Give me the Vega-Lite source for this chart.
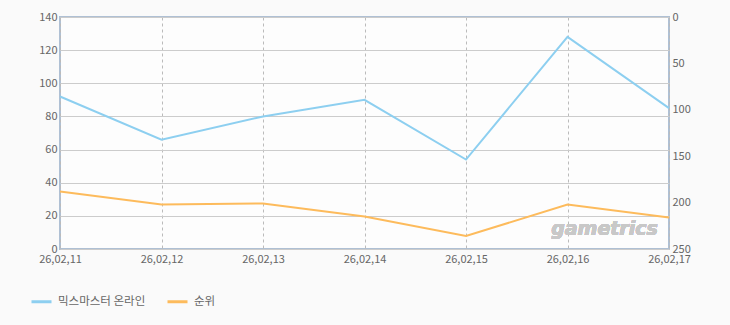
{
  "$schema": "https://vega.github.io/schema/vega-lite/v6.json",
  "autosize": {"type": "none"},
  "width": 609,
  "height": 232,
  "padding": {"left": 60, "top": 17, "right": 61, "bottom": 76},
  "background": "#fafafa",
  "config": {
    "font": "Noto Sans CJK KR",
    "view": {"stroke": "#afc0d4", "strokeWidth": 2, "fill": "#fdfdfd"},
    "axis": {"labelFont": "Noto Sans CJK KR", "labelFontSize": 11, "labelColor": "#666666", "ticks": false, "domain": false, "title": null, "labelOverlap": false, "labelBound": false, "labelFlush": false}
  },
  "data": {
    "values": [
      {"date": "26,02,11", "series": "믹스마스터 온라인", "value": 92},
      {"date": "26,02,12", "series": "믹스마스터 온라인", "value": 66},
      {"date": "26,02,13", "series": "믹스마스터 온라인", "value": 80},
      {"date": "26,02,14", "series": "믹스마스터 온라인", "value": 90},
      {"date": "26,02,15", "series": "믹스마스터 온라인", "value": 54},
      {"date": "26,02,16", "series": "믹스마스터 온라인", "value": 128},
      {"date": "26,02,17", "series": "믹스마스터 온라인", "value": 85},
      {"date": "26,02,11", "series": "순위", "value": 188},
      {"date": "26,02,12", "series": "순위", "value": 202},
      {"date": "26,02,13", "series": "순위", "value": 201},
      {"date": "26,02,14", "series": "순위", "value": 215},
      {"date": "26,02,15", "series": "순위", "value": 236},
      {"date": "26,02,16", "series": "순위", "value": 202},
      {"date": "26,02,17", "series": "순위", "value": 216}
    ]
  },
  "encoding": {
    "x": {
      "field": "date", "type": "ordinal",
      "scale": {"type": "point", "padding": 0},
      "axis": {"labelAngle": 0, "labelPadding": 4, "grid": true, "gridDash": [3, 3], "gridColor": "#bbbbbb"}
    }
  },
  "layer": [
    {
      "layer": [
        {
          "transform": [{"filter": "datum.series === '믹스마스터 온라인'"}],
          "mark": {"type": "line", "strokeWidth": 2},
          "encoding": {
            "y": {
              "field": "value", "type": "quantitative",
              "scale": {"domain": [0, 140], "nice": false},
              "axis": {"orient": "left", "values": [0, 20, 40, 60, 80, 100, 120, 140], "labelPadding": 3, "grid": true, "gridColor": "#cccccc"}
            },
            "color": {
              "field": "series", "type": "nominal",
              "scale": {"domain": ["믹스마스터 온라인", "순위"], "range": ["#8dcff0", "#fdbb5c"]},
              "legend": {
                "title": null, "orient": "none", "direction": "horizontal",
                "legendX": -30, "legendY": 273,
                "symbolType": "stroke", "symbolSize": 400, "symbolStrokeWidth": 3,
                "labelFontSize": 11.5, "labelColor": "#666666", "labelOffset": 5,
                "columnPadding": 15, "padding": 0
              }
            }
          }
        },
        {
          "mark": {"type": "text", "text": "gametrics", "fontSize": 19, "fontStyle": "italic", "fontWeight": "bold", "font": "DejaVu Sans", "color": "#c8c8c8", "dx": 37, "baseline": "middle"},
          "encoding": {
            "x": {"datum": "26,02,16"},
            "y": {
              "datum": 12, "type": "quantitative",
              "axis": {"orient": "left", "values": [0, 20, 40, 60, 80, 100, 120, 140], "labelPadding": 3, "grid": true, "gridColor": "#cccccc"}
            }
          }
        }
      ]
    },
    {
      "transform": [{"filter": "datum.series === '순위'"}],
      "mark": {"type": "line", "strokeWidth": 2},
      "encoding": {
        "y": {
          "field": "value", "type": "quantitative",
          "scale": {"domain": [0, 250], "nice": false, "reverse": true},
          "axis": {"orient": "right", "values": [0, 50, 100, 150, 200, 250], "labelPadding": 3, "grid": false}
        },
        "color": {"field": "series", "type": "nominal"}
      }
    }
  ],
  "resolve": {"scale": {"y": "independent"}}
}
